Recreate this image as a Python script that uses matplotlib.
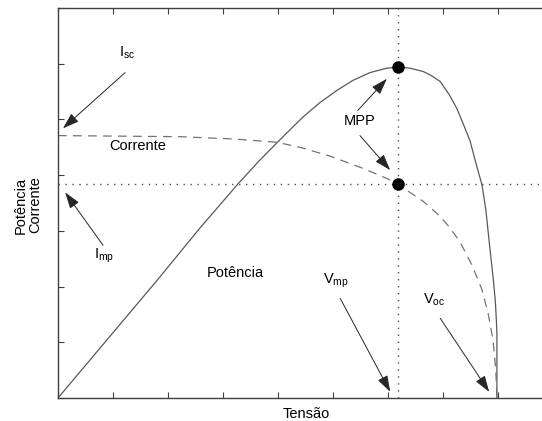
import matplotlib.pyplot as plt
import numpy as np

plt.rcParams['font.family'] = ['Liberation Sans', 'DejaVu Sans']

# I-V curve (dashed), arbitrary units
v_corrente = [0, 1.13, 2.22, 3.18, 3.98, 4.40, 4.95, 5.55, 5.98, 6.18, 6.40, 6.64,
              6.95, 7.13, 7.31, 7.53, 7.71, 7.82, 7.91, 7.96, 7.98]
i_corrente = [4.71, 4.70, 4.69, 4.65, 4.59, 4.50, 4.34, 4.12, 3.94, 3.84, 3.69, 3.53,
              3.26, 3.05, 2.80, 2.38, 1.94, 1.52, 1.04, 0.50, 0.0]

# P-V curve (solid)
v_potencia = [0, 1.80, 2.58, 3.27, 3.67, 4.04, 4.45, 4.76, 5.07, 5.36, 5.67, 5.98,
              6.18, 6.40, 6.64, 6.80, 6.95, 7.11, 7.25, 7.38, 7.49, 7.60, 7.71, 7.78,
              7.85, 7.91, 7.95, 7.97, 7.98, 7.98]
p_potencia = [0, 2.11, 3.05, 3.84, 4.27, 4.64, 5.04, 5.30, 5.52, 5.70, 5.84, 5.92,
              5.94, 5.92, 5.86, 5.78, 5.68, 5.45, 5.20, 4.89, 4.62, 4.21, 3.82, 3.37,
              2.71, 2.17, 1.76, 1.40, 1.16, 0.0]

# maximum power point
v_mp = 6.18
i_mp = 3.84
p_mp = 5.94

fig = plt.figure(figsize=(5.42, 4.21), dpi=100)
ax = fig.add_axes([58 / 542, 23 / 421, 550 / 542, 390 / 421])

ax.plot(v_potencia, p_potencia, color='0.35', lw=0.9)
ax.plot(v_corrente, i_corrente, color='0.45', lw=0.9, ls=(0, (7, 5)))
ax.axhline(i_mp, color='0.3', lw=1.0, ls=(0, (1, 4)))
ax.axvline(v_mp, color='0.3', lw=1.0, ls=(0, (1, 4)))
ax.plot([v_mp, v_mp], [p_mp, i_mp], 'o', color='black', ms=8, ls='none')

fs = 10.5
arrow = dict(arrowstyle='-|>,head_length=1.0,head_width=0.33', color='0.15',
             lw=0.7, shrinkA=0, shrinkB=0)


def seta(xy, xytext):
    ax.annotate('', xy=xy, xytext=xytext, arrowprops=arrow)


ax.text(1.25, 6.20, r'I$_{\mathregular{sc}}$', fontsize=fs, ha='center', va='center')
seta((0.09, 4.84), (1.22, 5.84))
ax.text(0.84, 2.56, r'I$_{\mathregular{mp}}$', fontsize=fs, ha='center', va='center')
seta((0.13, 3.69), (0.82, 2.74))
ax.text(5.49, 4.98, 'MPP', fontsize=fs, ha='center', va='center')
seta((5.98, 5.73), (5.45, 5.16))
seta((6.04, 4.09), (5.49, 4.71))
ax.text(5.05, 2.11, r'V$_{\mathregular{mp}}$', fontsize=fs, ha='center', va='center')
seta((6.04, 0.11), (5.13, 1.79))
ax.text(6.84, 1.76, r'V$_{\mathregular{oc}}$', fontsize=fs, ha='center', va='center')
seta((7.84, 0.11), (6.95, 1.43))

ax.text(1.45, 4.52, 'Corrente', fontsize=fs, ha='center', va='center')
ax.text(3.22, 2.24, 'Potência', fontsize=fs, ha='center', va='center')

ax.set_xlim(0, 10)
ax.set_ylim(0, 7)
ax.set_xticks(np.arange(0, 11, 1))
ax.set_yticks(np.arange(0, 8, 1))
ax.tick_params(direction='in', length=4, width=0.8, color='0.25',
               top=True, labelbottom=False, labelleft=False)
for side in ['left', 'bottom', 'top']:
    ax.spines[side].set_color('0.25')
    ax.spines[side].set_linewidth(1.0)
ax.spines['right'].set_visible(False)

fig.text(306 / 542, 1 - 414 / 421, 'Tensão', fontsize=fs, ha='center', va='center')
fig.text(28 / 542, 1 - 205 / 421, 'Potência\nCorrente', fontsize=fs, ha='center',
         va='center', rotation=90, linespacing=1.0)

fig.savefig('out.png', dpi=100)
